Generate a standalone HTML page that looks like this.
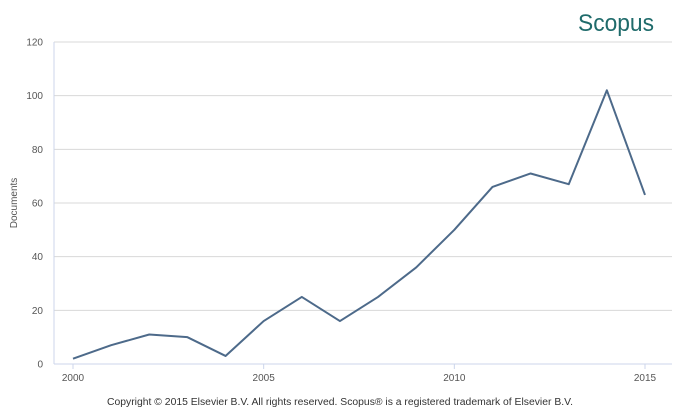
<!DOCTYPE html>
<html><head><meta charset="utf-8"><style>
body{margin:0;background:#fff;width:680px;height:411px;overflow:hidden;font-family:"Liberation Sans",sans-serif}
</style></head><body>
<svg width="680" height="411">
<text x="578" y="31" textLength="76" lengthAdjust="spacingAndGlyphs" font-size="24" fill="#1f6b6b" font-family="Liberation Sans Narrow, Liberation Sans, sans-serif">Scopus</text>
<g id="grid"></g>
<g id="yt"></g>
<g id="xt"></g>
<line x1="54" y1="42" x2="54" y2="364" stroke="#ccd6eb"/>
<line x1="54" y1="364" x2="672" y2="364" stroke="#ccd6eb"/>
<text transform="translate(17,203) rotate(-90)" text-anchor="middle" font-size="10" fill="#555">Documents</text>
<path id="line" fill="none" stroke="#4d6a8a" stroke-width="2" stroke-linejoin="round"/>
<text x="107" y="405" textLength="466" lengthAdjust="spacingAndGlyphs" font-size="10" fill="#333">Copyright © 2015 Elsevier B.V. All rights reserved. Scopus® is a registered trademark of Elsevier B.V.</text>
</svg>
<script>
const years=[2000,2001,2002,2003,2004,2005,2006,2007,2008,2009,2010,2011,2012,2013,2014,2015];
const docs=[2,7,11,10,3,16,25,16,25,36,50,66,71,67,102,63];
const yTicks=[0,20,40,60,80,100,120];
const xTicks=[2000,2005,2010,2015];
const ns="http://www.w3.org/2000/svg";
const xs=y=>73+(y-2000)*(645-73)/15;
const ys=v=>364-v*(364-42)/120;
const grid=document.getElementById('grid'),yt=document.getElementById('yt'),xt=document.getElementById('xt');
yTicks.forEach(t=>{
 if(t>0){const l=document.createElementNS(ns,'line');
 
 
 l.setAttribute('x1',54);l.setAttribute('x2',672);l.setAttribute('y1',ys(t));l.setAttribute('y2',ys(t));l.setAttribute('stroke','#d8d8d8');grid.appendChild(l);}
 const tx=document.createElementNS(ns,'text');
 
 
 tx.setAttribute('x',43);tx.setAttribute('y',ys(t)+3.5);tx.setAttribute('text-anchor','end');tx.setAttribute('font-size','10');tx.setAttribute('fill','#555');tx.textContent=t;yt.appendChild(tx);
});
xTicks.forEach(t=>{
 const l=document.createElementNS(ns,'line');
 
 
 l.setAttribute('x1',xs(t));l.setAttribute('x2',xs(t));l.setAttribute('y1',364);l.setAttribute('y2',369);l.setAttribute('stroke','#ccd6eb');xt.appendChild(l);
 const tx=document.createElementNS(ns,'text');
 
 
 tx.setAttribute('x',xs(t));tx.setAttribute('y',381);tx.setAttribute('text-anchor','middle');tx.setAttribute('font-size','10');tx.setAttribute('fill','#555');tx.textContent=t;xt.appendChild(tx);
});
document.getElementById('line').setAttribute('d',years.map((y,i)=>(i?'L':'M')+xs(y)+','+ys(docs[i])).join(''));
</script>
</body></html>
